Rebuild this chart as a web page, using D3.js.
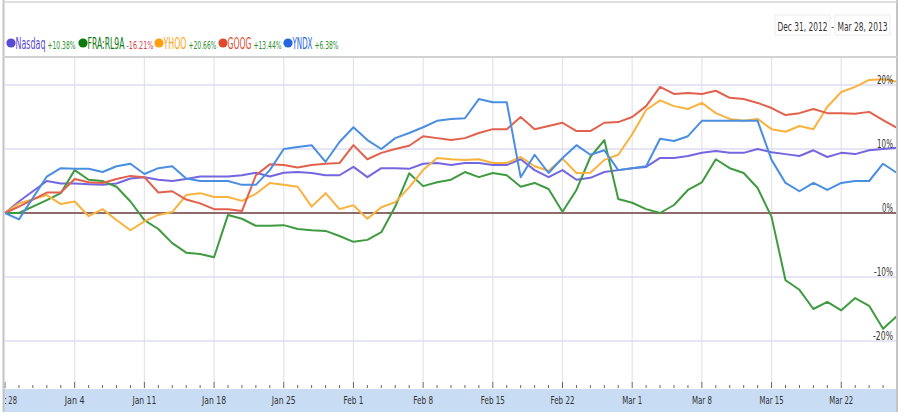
<!DOCTYPE html>
<html><head><meta charset="utf-8">
<script src="https://cdn.jsdelivr.net/npm/d3@7"></script>
<style>
body{margin:0;background:#fff;}
svg{display:block;font-family:"Liberation Sans Narrow","Arial Narrow","DejaVu Sans Condensed","Liberation Sans",Arial,sans-serif;}
</style>
</head><body><svg id="c" width="905" height="419"></svg>
<script>
// ---- data ----
const seriesNames = ["Nasdaq", "FRA:RL9A", "YHOO", "GOOG", "YNDX"];
const seriesChanges = ["+10.38%", "-16.21%", "+20.66%", "+13.44%", "+6.38%"];
const lineColors = ["#7466e0", "#3f9b3f", "#f9b23e", "#e2604c", "#4a8ee2"];
const legendColors = ["#5a4bd6", "#0d780d", "#ff9f10", "#e04a2c", "#2565e0"];
const changeColors = ["#2f8f2f", "#d04848", "#2f8f2f", "#2f8f2f", "#2f8f2f"];

// percentage change vs Dec 28, 2012 close, one value per trading day
const nasdaq = [0, 1.8, 5.0, 4.6, 4.6, 4.5, 4.4, 4.6, 5.4, 5.6, 5.2, 5.0, 5.3, 5.7, 5.7, 5.7, 5.9, 6.3, 5.7, 6.3, 6.4, 6.25, 5.9, 5.9, 7.2, 5.6, 7.0, 7.0, 6.9, 7.7, 7.8, 7.5, 7.8, 7.8, 7.5, 7.5, 8.4, 6.7, 5.6, 6.7, 5.2, 5.5, 6.4, 6.7, 7.0, 7.2, 8.6, 8.6, 8.9, 9.4, 9.7, 9.4, 9.4, 10.0, 9.5, 9.2, 8.9, 9.8, 8.75, 9.4, 9.2, 9.8, 10.0, 10.2];
const rl9a = [0, 0, 2.0, 3.1, 6.7, 5.2, 5.0, 4.1, 1.8, -1.1, -2.5, -4.7, -6.2, -6.4, -6.9, -0.3, -0.9, -2.0, -2.0, -1.9, -2.5, -2.7, -2.8, -3.6, -4.5, -4.2, -3.0, 1.0, 6.2, 4.2, 4.8, 5.2, 6.4, 5.6, 6.25, 5.9, 4.1, 4.7, 3.75, 0.2, 3.6, 8.75, 11.4, 2.2, 1.6, 0.6, 0, 1.25, 3.6, 4.8, 8.4, 7.0, 6.25, 3.9, -0.6, -10.5, -12.0, -15.0, -13.9, -15.2, -13.3, -14.5, -18.1, -16.1];
const yhoo = [0, 1.5, 2.8, 1.4, 1.8, -0.5, 0.6, -1.1, -2.7, -1.3, -0.3, 0.15, 2.8, 3.1, 2.5, 2.5, 1.9, 3.0, 4.7, 4.4, 4.1, 1.0, 3.1, 0.6, 1.2, -0.9, 0.9, 1.7, 4.0, 6.7, 8.6, 8.4, 8.3, 8.4, 7.8, 7.8, 8.75, 7.3, 6.6, 8.5, 6.25, 6.3, 8.3, 9.1, 12.3, 16.1, 17.6, 16.7, 16.25, 17.2, 15.6, 14.7, 14.4, 14.7, 13.1, 12.7, 13.6, 13.1, 16.6, 18.9, 19.7, 20.8, 20.9, 20.5];
const goog = [0, 1.0, 3.2, 3.2, 5.3, 4.8, 4.7, 5.3, 5.8, 5.6, 3.2, 3.4, 2.1, 1.5, 0.6, 0.6, 0.3, 5.9, 7.6, 7.5, 7.1, 7.5, 7.7, 7.8, 10.6, 8.4, 9.4, 10.0, 10.5, 12.0, 11.7, 11.4, 11.7, 12.5, 13.1, 13.1, 15.0, 13.1, 13.6, 14.1, 12.8, 12.8, 14.1, 14.2, 15.0, 16.7, 19.7, 18.6, 18.75, 18.6, 19.1, 18.0, 17.8, 17.2, 16.4, 15.3, 15.6, 16.25, 15.6, 15.6, 15.5, 15.8, 14.5, 13.3];
const yndx = [0, -1.0, 5.7, 7.0, 6.9, 6.9, 6.4, 7.3, 7.7, 6.1, 7.0, 7.3, 5.4, 5.0, 5.0, 5.0, 4.4, 4.4, 6.7, 10.0, 10.3, 10.6, 8.0, 11.1, 13.4, 11.4, 10.0, 11.7, 12.5, 13.4, 14.4, 14.7, 14.8, 17.8, 17.3, 17.3, 5.6, 9.1, 6.25, 8.6, 10.6, 9.1, 9.8, 6.7, 7.0, 7.3, 11.6, 11.25, 12.0, 14.4, 14.4, 14.4, 14.4, 14.4, 8.3, 4.7, 3.4, 4.7, 3.6, 4.7, 5.0, 5.0, 7.7, 6.25];
const seriesValues = [nasdaq, rl9a, yhoo, goog, yndx];

const yTicks = [20, 10, 0, -10, -20];
const rangeLabels = ["Dec 31, 2012", "Mar 28, 2013"];
const axisStart = new Date(Date.UTC(2012, 11, 28));
const axisEnd = new Date(Date.UTC(2013, 2, 28));
const closedDays = ["2013-01-01"];

// ---- dates ----
const isWeekday = d => d.getUTCDay() % 6 !== 0;
const weekdays = d3.utcDays(axisStart, d3.utcDay.offset(axisEnd, 1)).filter(isWeekday);
const iso = d3.utcFormat("%Y-%m-%d");
const dates = weekdays.filter(d => !closedDays.includes(iso(d)));
const wdIndex = d => weekdays.findIndex(w => +w === +d);

// ---- scales ----
const pLeft = 5, pRight = 897, pTop = 57, axisY = 389;
const x = d3.scaleLinear().domain([0, weekdays.length - 1]).range([pLeft, pRight]);
const y = d3.scaleLinear().domain([-20, 20]).range([341, 85]);

const svg = d3.select("#c");

// place a text at (px,py) squeezed horizontally to a target width
function fit(sel, px, py, tw) {
  sel.attr("x", 0).attr("y", 0).attr("transform", function (d, i) {
    const w = this.getComputedTextLength() || 1;
    return `translate(${px(d, i)},${py(d, i)}) scale(${tw(d, i) / w},1)`;
  });
}

// vertical weekly gridlines (Fridays)
const fridays = weekdays.filter(d => d.getUTCDay() === 5);
svg.append("g").selectAll("line").data(fridays.slice(1)).join("line")
  .attr("x1", d => x(wdIndex(d))).attr("x2", d => x(wdIndex(d)))
  .attr("y1", pTop).attr("y2", axisY - 6)
  .attr("stroke", "#e3e3ea").attr("stroke-width", 1.2);

// horizontal gridlines
svg.append("g").selectAll("line").data(yTicks.filter(v => v !== 0)).join("line")
  .attr("x1", pLeft).attr("x2", pRight)
  .attr("y1", d => y(d)).attr("y2", d => y(d))
  .attr("stroke", "#dcdcf2").attr("stroke-width", 1.5);

// zero line
svg.append("line").attr("x1", pLeft).attr("x2", pRight)
  .attr("y1", y(0)).attr("y2", y(0))
  .attr("stroke", "#8e6a6a").attr("stroke-width", 2);

// series lines
const line = d3.line()
  .x((v, i) => x(wdIndex(dates[i])))
  .y(v => y(v));
svg.append("g").selectAll("path").data(seriesValues).join("path")
  .attr("d", d => line(d))
  .attr("fill", "none")
  .attr("stroke", (d, i) => lineColors[i])
  .attr("stroke-width", 2)
  .attr("stroke-linejoin", "round");

// y labels (inside right)
const yLabW = {"20": 16, "10": 16, "0": 11, "-10": 19, "-20": 20};
svg.append("g").selectAll("text").data(yTicks).join("text")
  .attr("text-anchor", "end")
  .attr("font-size", 11.5).attr("fill", "#333")
  .text(d => d + "%")
  .call(fit, () => pRight - 4, d => y(d) - 1.5, d => yLabW[String(d)]);

// x axis band
svg.append("rect").attr("x", 3).attr("y", axisY).attr("width", pRight - 3).attr("height", 23)
  .attr("fill", "#c8dcf4");

// ticks
svg.append("g").selectAll("line").data(weekdays).join("line")
  .attr("x1", d => x(wdIndex(d))).attr("x2", d => x(wdIndex(d)))
  .attr("y1", d => d.getUTCDay() === 5 ? axisY - 7 : axisY - 4)
  .attr("y2", axisY - 1)
  .attr("stroke", "#666").attr("stroke-width", 1);

svg.append("defs").append("clipPath").attr("id", "axclip")
  .append("rect").attr("x", 5).attr("y", axisY).attr("width", pRight - 5).attr("height", 23);
const fmt = d3.utcFormat("%b %-d");
svg.append("g").attr("clip-path", "url(#axclip)").selectAll("text").data(fridays).join("text")
  .attr("text-anchor", "middle")
  .attr("font-size", 11).attr("fill", "#333")
  .text(d => fmt(d))
  .call(fit, d => x(wdIndex(d)), () => axisY + 15, d => fmt(d).length * 4.0);

// frame
svg.append("line").attr("x1", 3.5).attr("x2", 3.5).attr("y1", 0).attr("y2", axisY + 23)
  .attr("stroke", "#c4c4c4").attr("stroke-width", 2);
svg.append("line").attr("x1", pRight).attr("x2", pRight).attr("y1", 0).attr("y2", axisY + 23)
  .attr("stroke", "#c4c4c4").attr("stroke-width", 2);
svg.append("line").attr("x1", 3).attr("x2", pRight).attr("y1", 2).attr("y2", 2)
  .attr("stroke", "#d4d4d4").attr("stroke-width", 1.5);
svg.append("line").attr("x1", 3).attr("x2", pRight).attr("y1", pTop).attr("y2", pTop)
  .attr("stroke", "#d2d2d2").attr("stroke-width", 2);

// legend
const legendX = [11, 83, 159, 223, 288];
const nameW = [30, 37, 23, 24, 20];
const chgW = [28, 27, 28, 28, 24];
const lg = svg.append("g").selectAll("g").data(seriesNames).join("g");
lg.append("circle").attr("cx", (d, i) => legendX[i]).attr("cy", 43).attr("r", 4.6)
  .attr("fill", (d, i) => legendColors[i]);
lg.append("text")
  .attr("font-size", 15).attr("fill", (d, i) => legendColors[i])
  .text(d => d)
  .call(fit, (d, i) => legendX[i] + 4.5, () => 49, (d, i) => nameW[i]);
lg.append("text")
  .attr("font-size", 10.5).attr("fill", (d, i) => changeColors[i])
  .text((d, i) => seriesChanges[i])
  .call(fit, (d, i) => legendX[i] + 6.5 + nameW[i], () => 49, (d, i) => chgW[i]);

// date range boxes
const boxX = [775, 835];
const rg = svg.append("g");
rg.selectAll("rect").data(rangeLabels).join("rect")
  .attr("x", (d, i) => boxX[i]).attr("y", 15).attr("width", 55).attr("height", 20)
  .attr("fill", "#fff").attr("stroke", "#ececec");
rg.selectAll("text").data(rangeLabels).join("text")
  .attr("font-size", 12).attr("fill", "#333")
  .text(d => d)
  .call(fit, (d, i) => boxX[i] + 2.5, () => 31, () => 50);
rg.append("text").attr("x", 832.5).attr("y", 30).attr("text-anchor", "middle")
  .attr("font-size", 10).attr("fill", "#555").text("-");
</script>
</body></html>
